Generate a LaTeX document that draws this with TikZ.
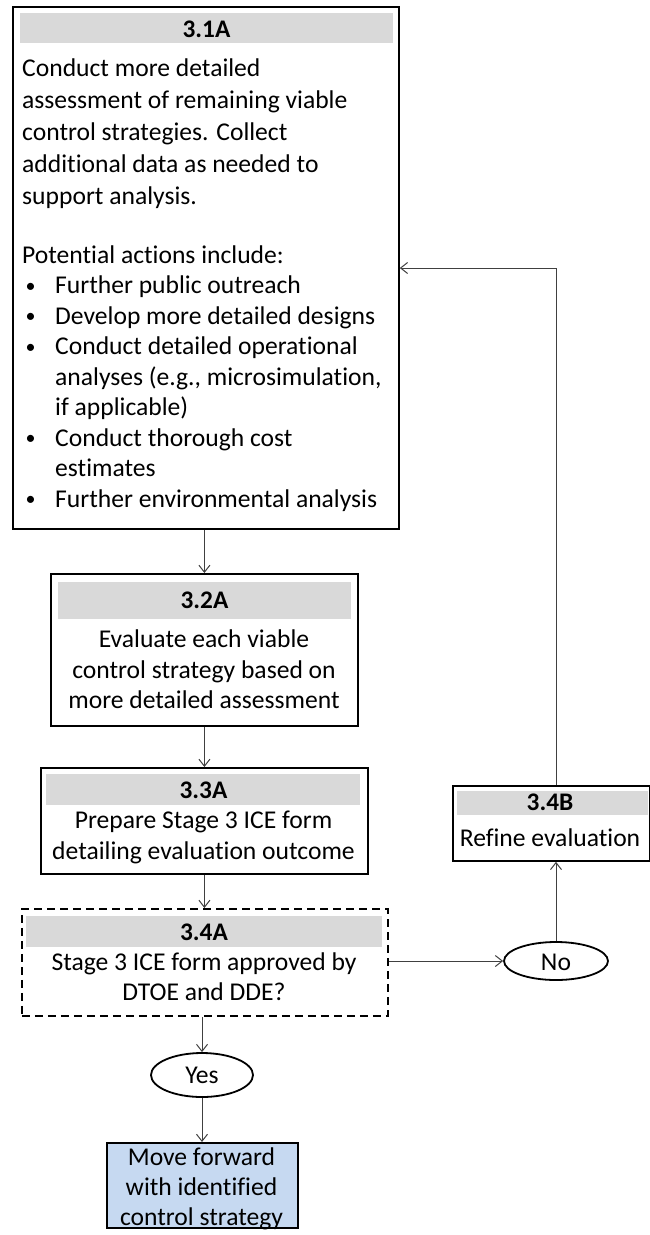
\documentclass[tikz,border=0pt]{standalone}
\usepackage{fontspec}
\setmainfont{Carlito}[Ligatures={NoCommon}]
\usetikzlibrary{arrows.meta,shapes.geometric}
\definecolor{hdr}{HTML}{D9D9D9}
\definecolor{fin}{HTML}{C6D9F1}
\definecolor{conncol}{HTML}{404040}
\tikzset{
  boxframe/.style={draw=black, line width=1.8pt, inner sep=0pt, anchor=north west},
  hdrbar/.style={fill=hdr, draw=none, inner sep=0pt, anchor=north west},
  ttl/.style={font=\fontsize{25.3}{30}\selectfont\bfseries, inner sep=0pt, anchor=base},
  body/.style={font=\fontsize{25.6}{30}\selectfont, inner sep=0pt, anchor=base},
  lbody/.style={body, anchor=base west},
  dot/.style={font=\fontsize{20}{30}\selectfont, inner sep=0pt, anchor=base},
  conn/.style={draw=conncol, line width=1pt, -{Straight Barb[length=7pt,width=11pt]}},
  oval/.style={ellipse, draw=black, line width=1.8pt, inner sep=0pt},
}
\begin{document}
\begin{tikzpicture}[x=1pt,y=-1pt]
\useasboundingbox (0,0) rectangle (649,1235);

% ---------- 3.1A ----------
\node[boxframe, minimum width=386pt, minimum height=522pt] (b31) at (12,6) {};
\node[hdrbar, minimum width=373pt, minimum height=30pt] (h31) at (20,13) {};
\node[ttl] (t31) at (206.5,37) {3.1A};
\node[lbody] (l1) at (22,76.5) {Conduct more detailed};
\node[lbody] (l2) at (22,108.5) {assessment of remaining viable};
\node[lbody] (l3) at (22,140.5) {control strategies. Collect};
\node[lbody] (l4) at (22,172.5) {additional data as needed to};
\node[lbody] (l5) at (22,204.5) {support analysis.};
\node[lbody] (l6) at (22,263) {Potential actions include:};
\node[dot] (d1) at (30.5,292) {•};
\node[lbody] (l7) at (55,293.5) {Further public outreach};
\node[dot] (d2) at (30.5,322.5) {•};
\node[lbody] (l8) at (55,324) {Develop more detailed designs};
\node[dot] (d3) at (30.5,353) {•};
\node[lbody] (l9) at (55,354.5) {Conduct detailed operational};
\node[lbody] (l10) at (55,385) {analyses (e.g., microsimulation,};
\node[lbody] (l11) at (55,415.5) {if applicable)};
\node[dot] (d4) at (30.5,444.5) {•};
\node[lbody] (l12) at (55,446) {Conduct thorough cost};
\node[lbody] (l13) at (55,476.5) {estimates};
\node[dot] (d5) at (30.5,505.5) {•};
\node[lbody] (l14) at (55,507) {Further environmental analysis};

% ---------- 3.2A ----------
\node[boxframe, minimum width=307pt, minimum height=152pt] (b32) at (50,573) {};
\node[hdrbar, minimum width=293pt, minimum height=37pt] (h32) at (58,582) {};
\node[ttl] (t32) at (204.5,608) {3.2A};
\node[body] (m1) at (204,647) {Evaluate each viable};
\node[body] (m2) at (204,678) {control strategy based on};
\node[body] (m3) at (204,708) {more detailed assessment};

% ---------- 3.3A ----------
\node[boxframe, minimum width=327pt, minimum height=106pt] (b33) at (40,767) {};
\node[hdrbar, minimum width=314pt, minimum height=31pt] (h33) at (46,774) {};
\node[ttl] (t33) at (203.5,798.5) {3.3A};
\node[body] (n1) at (203.5,828) {Prepare Stage 3 ICE form};
\node[body] (n2) at (203.5,859) {detailing evaluation outcome};

% ---------- 3.4A ----------
\node[boxframe, dash pattern=on 8pt off 5pt, minimum width=366pt, minimum height=107pt] (b34) at (21,908) {};
\node[hdrbar, minimum width=356pt, minimum height=31pt] (h34) at (26,916) {};
\node[ttl] (t34) at (204,940) {3.4A};
\node[body] (p1) at (204,970) {Stage 3 ICE form approved by};
\node[body] (p2) at (204,1000) {DTOE and DDE?};

% ---------- Yes / final ----------
\node[oval, minimum width=102pt, minimum height=44pt] (yes) at (202,1075) {};
\node[body] (yt) at (202,1083) {Yes};
\node[boxframe, fill=fin, minimum width=191pt, minimum height=85pt] (fin) at (106,1142) {};
\node[body] (f1) at (201.5,1165) {Move forward};
\node[body] (f2) at (201.5,1195) {with identified};
\node[body] (f3) at (201.5,1225) {control strategy};

% ---------- No / 3.4B ----------
\node[oval, minimum width=104pt, minimum height=38pt] (no) at (556,961) {};
\node[body] (nt) at (556,970) {No};
\node[boxframe, minimum width=197pt, minimum height=75pt] (b34b) at (452,785) {};
\node[hdrbar, minimum width=191pt, minimum height=24pt] (h34b) at (457,791) {};
\node[ttl] (t34b) at (550,810) {3.4B};
\node[body] (r1) at (550,846) {Refine evaluation};

% ---------- connectors ----------
\coordinate (turn) at (556,268);
\draw[conn] (b32.north |- b31.south) -- (b32.north);
\draw[conn] (b32.south) -- (b32.south |- b33.north);
\draw[conn] (b33.south) -- (b33.south |- b34.north);
\draw[conn] (yes.north |- b34.south) -- (yes.north);
\draw[conn] (yes.south) -- (yes.south |- fin.north);
\draw[conn] (b34.east |- no.west) -- (no.west);
\draw[conn] (no.north) -- (no.north |- b34b.south);
\draw[conn] (turn |- b34b.north) -- (turn) -- (b31.east |- turn);
\end{tikzpicture}
\end{document}
